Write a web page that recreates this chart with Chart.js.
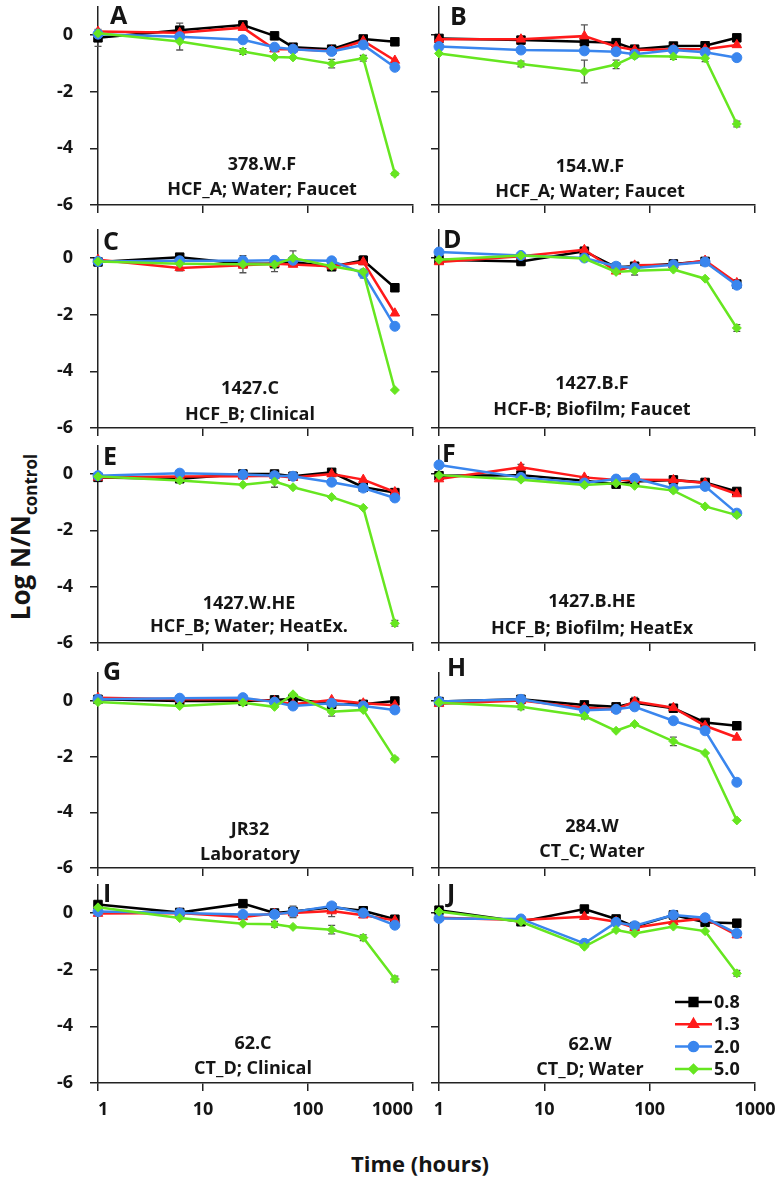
<!DOCTYPE html>
<html>
<head>
<meta charset="utf-8">
<script src="https://cdn.jsdelivr.net/npm/chart.js@4.4.1/dist/chart.umd.min.js"></script>
<style>
body { margin: 0; background: #fff; }
#wrap { position: relative; width: 780px; height: 1179px; overflow: hidden; font-family: 'Open Sans', Lato, sans-serif; font-weight: bold; color: #151515; }
#wrap canvas { position: absolute; }
.cap { position: absolute; transform: translate(-50%, -50%); white-space: nowrap; font-size: 18px; }
.letter { position: absolute; transform: translateY(-50%); font-size: 25px; }
#ytitle { position: absolute; left: 22px; top: 537px; transform: translate(-50%, -50%) rotate(-90deg); font-size: 26px; white-space: nowrap; }
#ytitle sub { font-size: 17px; }
#xtitle { position: absolute; left: 420px; top: 1163px; transform: translate(-50%, -50%); font-size: 22px; white-space: nowrap; }
</style>
</head>
<body>
<div id="wrap">
  <div id="ytitle">Log N/N<sub>control</sub></div>
  <div id="xtitle">Time (hours)</div>
</div>
<script>
const hours = [1, 6, 24, 48, 72, 168, 336, 672];
const doses = ['0.8', '1.3', '2.0', '5.0'];
const panel_letters = ['A', 'B', 'C', 'D', 'E', 'F', 'G', 'H', 'I', 'J'];
const strain_names = ['378.W.F', '154.W.F', '1427.C', '1427.B.F', '1427.W.HE', '1427.B.HE', 'JR32', '284.W', '62.C', '62.W'];
const strain_sources = ['HCF_A; Water; Faucet', 'HCF_A; Water; Faucet', 'HCF_B; Clinical', 'HCF-B; Biofilm; Faucet',
    'HCF_B; Water; HeatEx.', 'HCF_B; Biofilm; HeatEx', 'Laboratory', 'CT_C; Water', 'CT_D; Clinical', 'CT_D; Water'];
const y_ticks = [-6, -4, -2, 0];
const x_ticks = [1, 10, 100, 1000];

// log N/Ncontrol, rows = doses 0.8, 1.3, 2.0, 5.0
const panel_A = [
    [-0.1, 0.17, 0.35, -0.03, -0.43, -0.5, -0.14, -0.24],
    [0.12, 0.08, 0.26, -0.5, -0.5, -0.56, -0.21, -0.9],
    [0.03, -0.06, -0.17, -0.43, -0.5, -0.58, -0.35, -1.14],
    [0.06, -0.23, -0.58, -0.78, -0.79, -1.01, -0.82, -4.9]
];
const panel_B = [
    [-0.12, -0.18, -0.24, -0.27, -0.5, -0.39, -0.38, -0.1],
    [-0.15, -0.15, -0.04, -0.41, -0.53, -0.5, -0.5, -0.35],
    [-0.41, -0.53, -0.56, -0.59, -0.68, -0.53, -0.61, -0.8],
    [-0.65, -1.02, -1.29, -1.04, -0.74, -0.76, -0.82, -3.14]
];
const panel_C = [
    [-0.14, 0.03, -0.2, -0.2, -0.14, -0.31, -0.08, -1.05],
    [-0.06, -0.35, -0.26, -0.2, -0.23, -0.29, -0.14, -1.95],
    [-0.12, -0.1, -0.1, -0.08, -0.08, -0.1, -0.55, -2.41],
    [-0.12, -0.2, -0.22, -0.23, 0.0, -0.29, -0.49, -4.66]
];
const panel_D = [
    [-0.06, -0.12, 0.24, -0.33, -0.29, -0.21, -0.12, -0.92],
    [-0.14, 0.06, 0.29, -0.47, -0.26, -0.24, -0.09, -0.88],
    [0.21, 0.09, 0.0, -0.29, -0.35, -0.24, -0.14, -0.96],
    [-0.06, 0.09, -0.02, -0.49, -0.45, -0.41, -0.73, -2.47]
];
const panel_E = [
    [-0.12, -0.17, 0.0, 0.0, -0.08, 0.06, -0.47, -0.66],
    [-0.12, -0.09, -0.08, -0.06, -0.12, 0.0, -0.2, -0.64],
    [-0.06, 0.03, -0.02, -0.06, -0.08, -0.29, -0.5, -0.85],
    [-0.09, -0.23, -0.38, -0.27, -0.47, -0.82, -1.2, -5.3]
];
const panel_F = [
    [-0.06, -0.04, -0.24, -0.36, -0.27, -0.21, -0.3, -0.62],
    [-0.18, 0.24, -0.12, -0.21, -0.2, -0.21, -0.32, -0.71],
    [0.32, -0.12, -0.32, -0.18, -0.15, -0.51, -0.44, -1.39],
    [-0.04, -0.2, -0.39, -0.33, -0.42, -0.59, -1.15, -1.46]
];
const panel_G = [
    [0.06, 0.0, 0.0, 0.04, 0.08, -0.12, -0.12, 0.0],
    [0.12, 0.06, 0.06, 0.0, -0.12, 0.04, -0.08, -0.15],
    [0.06, 0.1, 0.12, -0.04, -0.18, -0.08, -0.18, -0.32],
    [-0.04, -0.18, -0.06, -0.21, 0.24, -0.39, -0.32, -2.08]
];
const panel_H = [
    [-0.02, 0.06, -0.14, -0.21, -0.06, -0.26, -0.77, -0.89],
    [-0.1, 0.02, -0.24, -0.3, -0.02, -0.24, -0.89, -1.31],
    [-0.02, 0.06, -0.33, -0.3, -0.21, -0.71, -1.07, -2.92],
    [-0.06, -0.21, -0.54, -1.07, -0.83, -1.45, -1.87, -4.29]
];
const panel_I = [
    [0.3, 0.02, 0.33, 0.0, 0.05, 0.2, 0.08, -0.22],
    [-0.02, 0.0, -0.14, -0.02, 0.0, 0.07, -0.08, -0.26],
    [0.05, 0.0, -0.05, -0.05, 0.04, 0.25, 0.0, -0.43],
    [0.2, -0.18, -0.38, -0.4, -0.49, -0.59, -0.87, -2.33]
];
const panel_J = [
    [0.1, -0.31, 0.14, -0.21, -0.48, -0.07, -0.33, -0.36],
    [-0.17, -0.25, -0.13, -0.31, -0.52, -0.31, -0.19, -0.78],
    [-0.19, -0.21, -1.07, -0.33, -0.45, -0.07, -0.17, -0.72],
    [0.05, -0.31, -1.19, -0.6, -0.72, -0.48, -0.64, -2.13]
];
const all_panels = [panel_A, panel_B, panel_C, panel_D, panel_E, panel_F, panel_G, panel_H, panel_I, panel_J];

// [panel, dose index, time index, +/- error]
const error_bars = [
    ['A', 0, 0, 0.3], ['A', 0, 1, 0.25], ['A', 3, 1, 0.3], ['A', 0, 2, 0.15], ['A', 3, 2, 0.1],
    ['A', 3, 5, 0.15], ['A', 3, 6, 0.1], ['A', 2, 7, 0.1], ['A', 3, 7, 0.05],
    ['B', 1, 2, 0.4], ['B', 3, 2, 0.4], ['B', 3, 1, 0.1], ['B', 0, 1, 0.1], ['B', 3, 3, 0.15],
    ['B', 3, 5, 0.1], ['B', 3, 6, 0.12], ['B', 3, 7, 0.1], ['B', 2, 7, 0.1],
    ['C', 3, 2, 0.3], ['C', 3, 3, 0.25], ['C', 3, 4, 0.25], ['C', 0, 6, 0.15], ['C', 2, 6, 0.15], ['C', 1, 1, 0.1],
    ['D', 0, 1, 0.15], ['D', 2, 3, 0.1], ['D', 3, 4, 0.15], ['D', 3, 7, 0.12],
    ['E', 3, 3, 0.2], ['E', 2, 6, 0.1], ['E', 3, 7, 0.1], ['E', 0, 7, 0.1],
    ['F', 1, 1, 0.1], ['F', 0, 7, 0.1],
    ['G', 3, 5, 0.15], ['G', 3, 7, 0.05],
    ['H', 1, 4, 0.15], ['H', 3, 2, 0.1], ['H', 3, 5, 0.15], ['H', 0, 5, 0.1], ['H', 3, 1, 0.1],
    ['I', 3, 3, 0.1], ['I', 2, 4, 0.2], ['I', 3, 5, 0.15], ['I', 1, 5, 0.2], ['I', 3, 6, 0.1], ['I', 3, 7, 0.1],
    ['J', 3, 7, 0.1], ['J', 1, 7, 0.08]
];

const dose_colors = ['#000000', '#ff1a1a', '#3a86ee', '#66e620'];
const dose_styles = ['rect', 'triangle', 'circle', 'rectRot'];
const dose_radius = [6, 5.5, 5, 4.5];

// page geometry of the plot areas: x of 1 and 1000, y of 0 and -6
const col_x = [[98, 413], [439, 755]];
const row_y = [[35, 205], [258, 428], [474, 643], [701, 868], [913, 1083]];
const letter_pos = [[110, 14], [450, 15], [103, 240], [443, 238], [103, 455], [442, 452], [103, 670], [447, 666], [103, 892], [447, 892]];
const caption_pos = [[262, 163, 188], [590, 165, 190], [250, 387, 413], [592, 382, 408], [249, 602, 625],
    [592, 600, 627], [250, 828, 853], [592, 825, 850], [253, 1042, 1067], [590, 1043, 1068]];

const tick_font = { family: 'Open Sans', weight: 'bold', size: 18 };
const axis_color = '#222';

const errorBarPlugin = {
    id: 'errorBars',
    beforeDatasetsDraw(chart, args, opts) {
        const ctx = chart.ctx;
        const y = chart.scales.y;
        ctx.save();
        ctx.strokeStyle = '#555';
        ctx.lineWidth = 1.3;
        error_bars.filter(e => e[0] === opts.letter).forEach(([p, k, j, err]) => {
            const pt = chart.getDatasetMeta(k).data[j];
            const v = chart.data.datasets[k].data[j].y;
            const top = y.getPixelForValue(v + err);
            const bot = y.getPixelForValue(v - err);
            ctx.beginPath();
            ctx.moveTo(pt.x, top); ctx.lineTo(pt.x, bot);
            ctx.moveTo(pt.x - 3.5, top); ctx.lineTo(pt.x + 3.5, top);
            ctx.moveTo(pt.x - 3.5, bot); ctx.lineTo(pt.x + 3.5, bot);
            ctx.stroke();
        });
        ctx.restore();
    }
};

const doseLegendPlugin = {
    id: 'doseLegend',
    afterDraw(chart, args, opts) {
        if (!opts.show) return;
        const ctx = chart.ctx;
        ctx.save();
        doses.forEach((d, k) => {
            const yy = opts.y + k * 22.3;
            ctx.strokeStyle = dose_colors[k];
            ctx.fillStyle = dose_colors[k];
            ctx.lineWidth = 2.5;
            ctx.beginPath();
            ctx.moveTo(opts.x, yy); ctx.lineTo(opts.x + 37, yy);
            ctx.stroke();
            if (Chart.helpers && Chart.helpers.drawPoint) {
                Chart.helpers.drawPoint(ctx, { pointStyle: dose_styles[k], radius: dose_radius[k] - 0.5, borderWidth: 1, rotation: 0 }, opts.x + 18.5, yy);
            }
            ctx.fillStyle = '#151515';
            ctx.font = 'bold 18px "Open Sans"';
            ctx.textBaseline = 'middle';
            ctx.fillText(d, opts.x + 39, yy + 1);
        });
        ctx.restore();
    }
};

function no_pad(s) {
    s.paddingTop = 0; s.paddingBottom = 0; s.paddingLeft = 0; s.paddingRight = 0;
}

function make_panel(i) {
    const wrap = document.getElementById('wrap');
    const col = i % 2, row = Math.floor(i / 2);
    const [xl, xr] = col_x[col];
    const [y0, y6] = row_y[row];
    const unit = (y6 - y0) / 6;
    const top = y0 - unit;
    const pad_top = 10, pad_right = 30;
    const y_w = col === 0 ? xl : 12;
    const x_h = row === 4 ? 48 : 12;
    const w = Math.round(y_w + (xr - xl) + pad_right);
    const h = Math.round(pad_top + (y6 - top) + x_h);
    const c_top = Math.round(top - pad_top);

    const canvas = document.createElement('canvas');
    canvas.width = w; canvas.height = h;
    canvas.style.left = (xl - y_w) + 'px';
    canvas.style.top = c_top + 'px';
    canvas.style.width = w + 'px';
    canvas.style.height = h + 'px';
    wrap.appendChild(canvas);

    const vals = all_panels[i];
    const datasets = doses.map((d, k) => ({
        label: d,
        data: hours.map((t, j) => ({ x: t, y: vals[k][j] })),
        borderColor: dose_colors[k],
        backgroundColor: dose_colors[k],
        borderWidth: 2.5,
        pointStyle: dose_styles[k],
        pointRadius: dose_radius[k],
        pointBorderWidth: 1,
        tension: 0,
        clip: false,
        order: 3 - k
    }));

    new Chart(canvas, {
        type: 'line',
        data: { datasets },
        options: {
            responsive: false,
            animation: false,
            devicePixelRatio: 1,
            layout: { padding: { top: top - c_top, right: pad_right, left: 0, bottom: 0 } },
            plugins: {
                legend: { display: false },
                tooltip: { enabled: false },
                errorBars: { letter: panel_letters[i] },
                doseLegend: { show: i === 9, x: 675 - (xl - y_w), y: 1002 - c_top }
            },
            scales: {
                x: {
                    type: 'logarithmic', min: 1, max: 1000,
                    afterBuildTicks: s => { s.ticks = x_ticks.map(v => ({ value: v })); },
                    afterFit: s => { s.height = x_h; no_pad(s); },
                    grid: { drawOnChartArea: false, drawTicks: true, tickLength: 8, color: axis_color, lineWidth: 1.5 },
                    border: { display: true, color: axis_color, width: 1.5 },
                    ticks: { display: row === 4, font: tick_font, color: '#151515', padding: 8, maxRotation: 0, autoSkip: false,
                        align: col === 0 ? 'inner' : 'center', callback: v => String(v) }
                },
                y: {
                    min: -6, max: 1,
                    afterBuildTicks: s => { s.ticks = y_ticks.map(v => ({ value: v })); },
                    afterFit: s => { s.width = y_w; no_pad(s); },
                    grid: { drawOnChartArea: false, drawTicks: true, tickLength: 8, color: axis_color, lineWidth: 1.5 },
                    border: { display: true, color: axis_color, width: 1.5 },
                    ticks: { display: col === 0, font: tick_font, color: '#151515', padding: 17, callback: v => String(v) }
                }
            }
        },
        plugins: [errorBarPlugin, doseLegendPlugin]
    });

    const lt = document.createElement('div');
    lt.className = 'letter';
    lt.textContent = panel_letters[i];
    lt.style.left = letter_pos[i][0] + 'px';
    lt.style.top = letter_pos[i][1] + 'px';
    wrap.appendChild(lt);

    [strain_names[i], strain_sources[i]].forEach((txt, n) => {
        const c = document.createElement('div');
        c.className = 'cap';
        c.textContent = txt;
        c.style.left = caption_pos[i][0] + 'px';
        c.style.top = caption_pos[i][1 + n] + 'px';
        wrap.appendChild(c);
    });
}

for (let i = 0; i < 10; i++) make_panel(i);
</script>
</body>
</html>
